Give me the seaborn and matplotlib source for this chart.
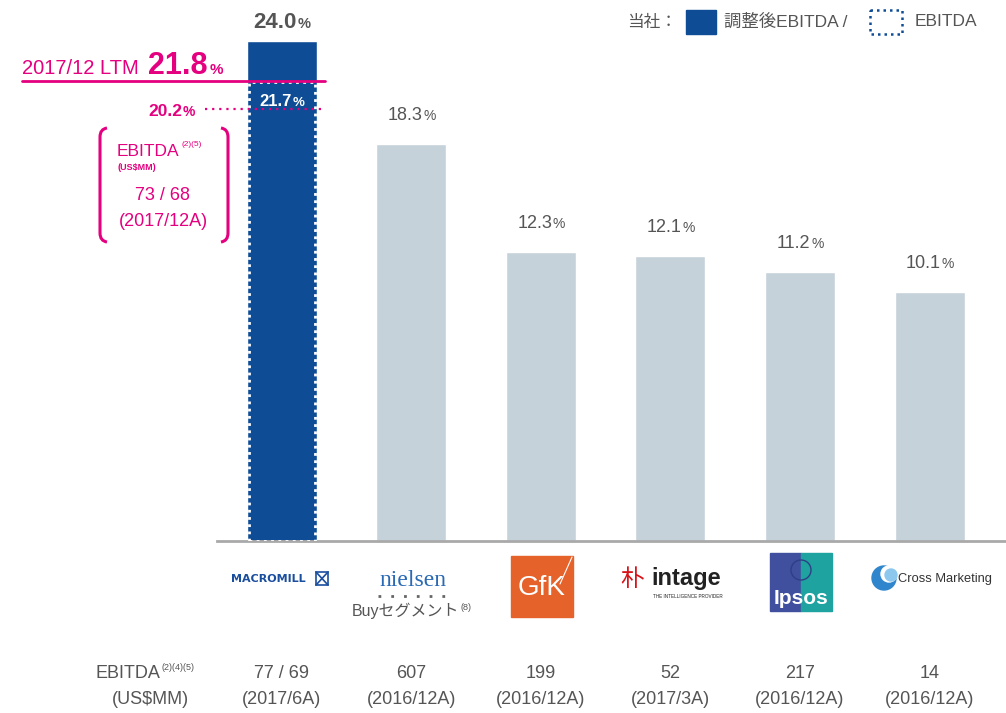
import numpy as np
import matplotlib
matplotlib.use('Agg')
import matplotlib.pyplot as plt
import matplotlib.transforms as mtrans
from matplotlib.patches import Rectangle, Circle, PathPatch
from matplotlib.path import Path
from matplotlib.lines import Line2D
import seaborn as sns

# ---- data ----
companies = ['Macromill', 'Nielsen', 'GfK', 'Intage', 'Ipsos', 'Cross Marketing']
margins = [24.0, 18.3, 12.3, 12.1, 11.2, 10.1]      # adjusted EBITDA margin %
macromill_ebitda_margin = 21.7                       # EBITDA (dotted box)
ltm_adjusted = 21.8                                  # 2017/12 LTM
ltm_ebitda = 20.2
ebitda_usd = ['77 / 69', '607', '199', '52', '217', '14']
periods = ['(2017/6A)', '(2016/12A)', '(2016/12A)', '(2017/3A)', '(2016/12A)', '(2016/12A)']
ltm_ebitda_usd = '73 / 68'
ltm_period = '(2017/12A)'

BLUE = '#0E4C96'
GREY_BAR = '#C6D2DA'
PINK = '#E4007F'
TEXT = '#555555'

sns.set_theme(style='white')
SANS = ['Liberation Sans', 'Noto Sans CJK JP', 'DejaVu Sans']
plt.rcParams['font.family'] = SANS

W, H = 1006, 713
fig = plt.figure(figsize=(W / 100, H / 100), dpi=100)
ax = fig.add_axes([217 / W, 1 - 541 / H, (W - 217) / W, 541 / H])

# pixel coords (top-left origin) for the decoration outside the axes
T = mtrans.Affine2D().scale(1 / W, -1 / H).translate(0, 1) + fig.transFigure
xdata_ypix = mtrans.blended_transform_factory(ax.transData, T)
xpix_ydata = mtrans.blended_transform_factory(T, ax.transData)

# the original chart squeezes the lower part of the scale
LIFT = 3.7
ax.set_yscale('function', functions=(lambda y: np.where(y > 0, y + LIFT, y),
                                     lambda u: np.where(u > LIFT, u - LIFT, u)))

sns.barplot(x=companies, y=margins, hue=companies, palette=[BLUE] + [GREY_BAR] * 5,
            legend=False, width=0.54, saturation=1, ax=ax, zorder=2)
ax.set_xlim(-0.5, 5.59)
ax.set_ylim(0, 26.26)
ax.set_xticks([])
ax.set_yticks([])
ax.set_xlabel('')
ax.set_ylabel('')
ax.grid(False)
sns.despine(ax=ax, left=True)
ax.spines['bottom'].set_color('#A9A9A9')
ax.spines['bottom'].set_linewidth(2)

# dotted EBITDA box inside the Macromill bar
ax.add_patch(Rectangle((-0.253, 0), 0.506, macromill_ebitda_margin, fill=False,
                       ec='white', lw=2, ls=(0, (1, 1.6)), zorder=3))

renderer = fig.canvas.get_renderer()


def pct_label(x, y, num, size, pct_size, color, weight, dy):
    t1 = ax.annotate(num, (x, y), xytext=(0, dy), textcoords='offset points',
                     ha='right', va='baseline', fontsize=size, color=color,
                     fontweight=weight, annotation_clip=False)
    t2 = ax.annotate('%', (x, y), xytext=(0, dy), textcoords='offset points',
                     ha='left', va='baseline', fontsize=pct_size, color=color,
                     fontweight=weight, annotation_clip=False)
    w1 = t1.get_window_extent(renderer).width * 72 / fig.dpi
    w2 = t2.get_window_extent(renderer).width * 72 / fig.dpi
    shift = (w1 - w2) / 2
    t1.set_position((shift, dy))
    t2.set_position((shift + 0.5, dy))


pct_label(0, margins[0], f'{margins[0]:.1f}', 16, 10.5, TEXT, 'bold', 9)
for i, v in enumerate(margins[1:], start=1):
    pct_label(i, v, f'{v:.1f}', 13, 10, TEXT, 'normal', 17)
pct_label(0, macromill_ebitda_margin, f'{macromill_ebitda_margin:.1f}', 12, 9.5,
          'white', 'bold', -17)

# LTM reference lines
above = mtrans.offset_copy(xpix_ydata, fig=fig, y=5, units='points')
below = mtrans.offset_copy(xpix_ydata, fig=fig, y=-5, units='points')
ax.plot([-2.006, 0.33], [ltm_adjusted] * 2, color=PINK, lw=2, clip_on=False, zorder=4)
ax.plot([-0.594, 0.33], [ltm_ebitda] * 2, color=PINK, lw=1.6, ls=(0, (1, 2.2)),
        clip_on=False, zorder=4)
ax.text(22, ltm_adjusted, '2017/12 LTM', transform=above,
        ha='left', va='baseline', fontsize=14.5, color=PINK)
ax.text(208, ltm_adjusted, f'{ltm_adjusted:.1f}', transform=above,
        ha='right', va='baseline', fontsize=22, fontweight='bold', color=PINK)
ax.text(210, ltm_adjusted, '%', transform=above,
        ha='left', va='baseline', fontsize=11, fontweight='bold', color=PINK)
ax.text(182, ltm_ebitda, f'{ltm_ebitda:.1f}', transform=below,
        ha='right', va='baseline', fontsize=12.5, fontweight='bold', color=PINK)
ax.text(183, ltm_ebitda, '%', transform=below,
        ha='left', va='baseline', fontsize=10, fontweight='bold', color=PINK)

# bracket with LTM EBITDA
left = Path([(107, 128), (100, 129), (100, 137), (100, 233), (100, 241), (107, 242)],
            [Path.MOVETO, Path.CURVE3, Path.CURVE3, Path.LINETO, Path.CURVE3, Path.CURVE3])
right = Path([(328 - x, y) for x, y in left.vertices], left.codes)
for p in (left, right):
    fig.add_artist(PathPatch(p, fill=False, ec=PINK, lw=2.2, transform=T))
fig.text(117, 151, 'EBITDA', transform=T, ha='left', va='center', fontsize=12.5, color=PINK)
fig.text(182, 145, '(2)(5)', transform=T, ha='left', va='center', fontsize=6, color=PINK)
fig.text(118, 168, '(US$MM)', transform=T, ha='left', va='center', fontsize=6.5,
         fontweight='bold', color=PINK)
fig.text(163, 196, ltm_ebitda_usd, transform=T, ha='center', va='center', fontsize=13, color=PINK)
fig.text(163, 221, ltm_period, transform=T, ha='center', va='center', fontsize=13, color=PINK)

# legend
fig.text(627, 22, '当社：', transform=T, ha='left', va='center', fontsize=12, color=TEXT)
fig.add_artist(Rectangle((686, 10), 30, 24, color=BLUE, transform=T))
fig.text(724, 22, '調整後EBITDA /', transform=T, ha='left', va='center', fontsize=12.5, color=TEXT)
fig.add_artist(Rectangle((870, 10), 32, 24, fill=False, ec=BLUE, lw=1.8,
                         ls=(0, (1, 1.6)), transform=T))
fig.text(915, 22, 'EBITDA', transform=T, ha='left', va='center', fontsize=12.5, color=TEXT)

# logos (simplified)
fig.text(268, 579, 'MACROMILL', transform=T, ha='center', va='center', fontsize=8,
         fontweight='bold', family=['DejaVu Sans'], color='#1A4E9E')
fig.add_artist(Rectangle((316, 572), 12, 13, fill=False, ec='#1A4E9E', lw=1.2, transform=T))
fig.add_artist(Line2D([316, 328], [572, 585], color='#1A4E9E', lw=1.2, transform=T))
fig.add_artist(Line2D([316, 328], [585, 572], color='#1A4E9E', lw=1.2, transform=T))

fig.text(413, 580, 'nielsen', transform=T, ha='center', va='center', fontsize=17,
         family=['Liberation Serif'], color='#2A6AB4')
fig.add_artist(Line2D([378, 450], [596, 596], color='#666666', lw=2, ls=(0, (1, 3.6)), transform=T))
fig.text(406, 611, 'Buyセグメント', transform=T, ha='center', va='center', fontsize=11.5, color=TEXT)
fig.text(461, 607, '(8)', transform=T, ha='left', va='center', fontsize=6.5, color=TEXT)

fig.add_artist(Rectangle((511, 556), 62, 61, color='#E5622B', transform=T))
fig.add_artist(Line2D([560, 572], [584, 557], color='white', lw=0.8, transform=T))
fig.text(542, 588, 'GfK', transform=T, ha='center', va='center', fontsize=20, color='white')

fig.text(632, 579, '朴', transform=T, ha='center', va='center', fontsize=17,
         color='#D7141A', family=['Noto Sans CJK JP'])
fig.text(651, 578, 'intage', transform=T, ha='left', va='center', fontsize=17,
         color='#222222', fontweight='bold')
fig.text(653, 597, 'THE INTELLIGENCE PROVIDER', transform=T, ha='left', va='center',
         fontsize=3.3, color='#222222')

fig.add_artist(Rectangle((770, 553), 31, 58, color='#404F9E', transform=T))
fig.add_artist(Rectangle((801, 553), 31, 58, color='#1EA3A1', transform=T))
fig.add_artist(Circle((801, 570), 10, fill=False, ec='#2E3F86', lw=1, transform=T))
fig.text(801, 598, 'Ipsos', transform=T, ha='center', va='center', fontsize=15,
         color='white', fontweight='bold')

fig.add_artist(Circle((884, 578), 12, color='#2F86CC', transform=T))
fig.add_artist(Circle((889, 574), 8, color='white', transform=T))
fig.add_artist(Circle((891, 575), 6, color='#8CC8EE', transform=T))
fig.text(898, 579, 'Cross Marketing', transform=T, ha='left', va='center', fontsize=9.3,
         color='#333333')

# EBITDA row under the chart
fig.text(160, 674, 'EBITDA', transform=T, ha='right', va='center', fontsize=13, color=TEXT)
fig.text(162, 668, '(2)(4)(5)', transform=T, ha='left', va='center', fontsize=6.5, color=TEXT)
fig.text(150, 699, '(US$MM)', transform=T, ha='center', va='center', fontsize=13, color=TEXT)
for i, (val, per) in enumerate(zip(ebitda_usd, periods)):
    ax.text(i, 674, val, transform=xdata_ypix, ha='center', va='center', fontsize=13, color=TEXT)
    ax.text(i, 699, per, transform=xdata_ypix, ha='center', va='center', fontsize=13, color=TEXT)

fig.savefig('out.png', dpi=100)
